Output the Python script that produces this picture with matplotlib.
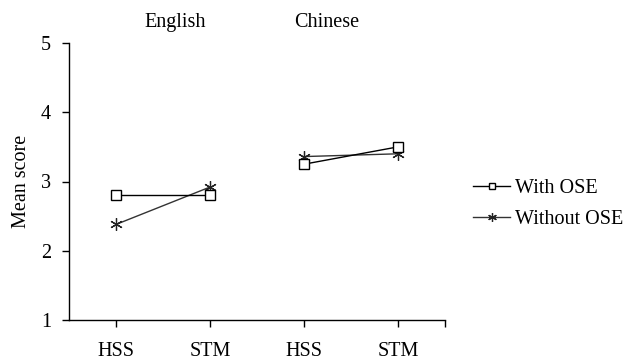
import matplotlib
matplotlib.use("Agg")
import matplotlib.pyplot as plt

plt.rcParams['font.family'] = ['Liberation Serif', 'DejaVu Serif']

languages = ["English", "Chinese"]
conditions = ["HSS", "STM"]
tick_labels = ["HSS", "STM", "HSS", "STM"]
with_ose = [2.80, 2.80, 3.25, 3.50]
without_ose = [2.38, 2.92, 3.36, 3.40]

FS = 14.5

fig = plt.figure(figsize=(6.26, 3.59), dpi=100)
ax = fig.add_axes([69 / 626, 1 - 320 / 359, 376 / 626, 277 / 359])

x = [0.5, 1.5, 2.5, 3.5]
star = (6, 2, 0)
for g in range(len(languages)):
    sl = slice(2 * g, 2 * g + 2)
    ax.plot(x[sl], with_ose[sl], color='black', lw=1.0, marker='s',
            markersize=7, markerfacecolor='white', markeredgecolor='black',
            markeredgewidth=1.0, label='With OSE' if g == 0 else None, zorder=3)
    ax.plot(x[sl], without_ose[sl], color='#333333', lw=1.0, marker=star,
            markersize=9, markeredgecolor='#222222', markeredgewidth=0.9,
            label='Without OSE' if g == 0 else None, zorder=2)

ax.set_xlim(0, 4)
ax.set_ylim(1, 5)
ax.set_yticks([1, 2, 3, 4, 5])
ax.set_xticks(x + [4])
ax.set_xticklabels(tick_labels + [""])
ax.tick_params(axis='both', direction='out', length=5, width=1.0,
               labelsize=FS, colors='black')
ax.tick_params(axis='x', pad=11)
ax.tick_params(axis='y', pad=8)
for side in ['top', 'right']:
    ax.spines[side].set_visible(False)
for side in ['left', 'bottom']:
    ax.spines[side].set_linewidth(1.0)

ax.set_ylabel("Mean score", fontsize=FS, labelpad=7)

title_x = [1.13, 2.74]
for name, tx in zip(languages, title_x):
    ax.text(tx, 5.3, name, ha='center', va='center', fontsize=FS,
            clip_on=False)

leg = fig.legend(loc='center left', bbox_to_anchor=(473 / 626, 1 - 204 / 359),
                 frameon=False, fontsize=FS, handlelength=1.85,
                 handletextpad=0.25, labelspacing=0.6, markerscale=0.7,
                 borderpad=0, borderaxespad=0)

fig.savefig("out.png", dpi=100)
